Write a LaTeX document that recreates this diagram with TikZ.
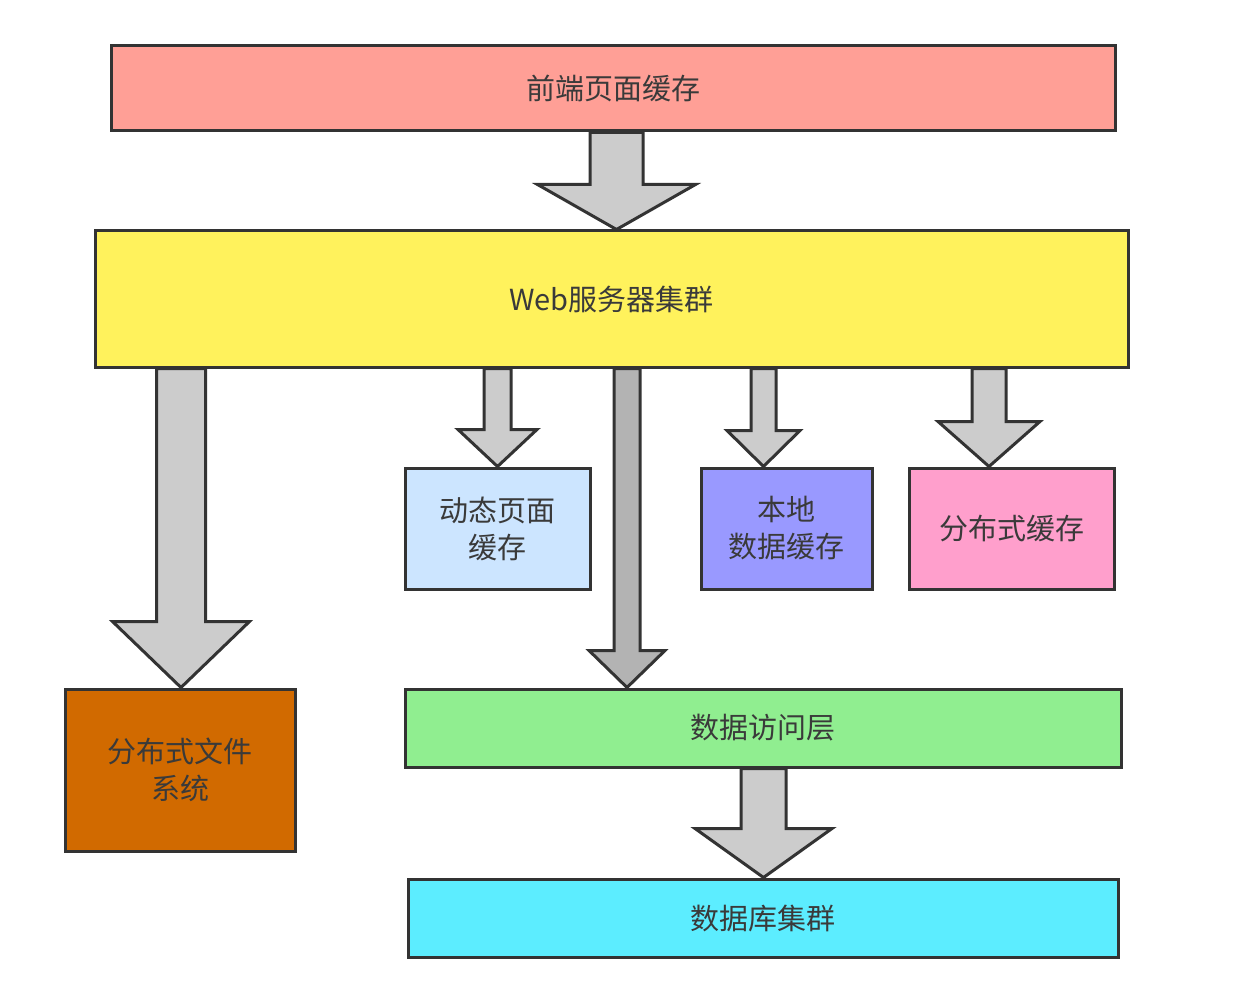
\documentclass[tikz,border=0pt]{standalone}
\usepackage{fontspec}
\newfontfamily\cjk{Noto Sans CJK SC}
\usetikzlibrary{calc}
\definecolor{tcol}{HTML}{3A3A3A}
\definecolor{lcol}{HTML}{333333}
\definecolor{cTop}{HTML}{FF9F96}
\definecolor{cWeb}{HTML}{FFF25C}
\definecolor{cDyn}{HTML}{CCE5FF}
\definecolor{cLoc}{HTML}{9999FF}
\definecolor{cDist}{HTML}{FF9FCC}
\definecolor{cDfs}{HTML}{D16A00}
\definecolor{cDal}{HTML}{90EE90}
\definecolor{cDb}{HTML}{5CEDFF}
\definecolor{aGray}{HTML}{CCCCCC}
\definecolor{aDark}{HTML}{B3B3B3}
\tikzset{
  box/.style={draw=lcol, line width=3pt, rectangle, inner sep=0pt, align=center,
    text=tcol, font=\cjk\fontsize{29}{37}\selectfont},
  blockarrow/.style={draw=lcol, line width=3pt, line join=miter}
}
\newcommand{\barrow}[7]{%
  \filldraw[blockarrow, fill=#7] let \p1=(#1.south), \p2=(#2.north) in
   ({(#3-#4)*1pt},\y1) -- ({(#3-#4)*1pt},{\y2+#6*1pt}) -- ({(#3-#5)*1pt},{\y2+#6*1pt})
   -- ({#3*1pt},\y2) -- ({(#3+#5)*1pt},{\y2+#6*1pt}) -- ({(#3+#4)*1pt},{\y2+#6*1pt})
   -- ({(#3+#4)*1pt},\y1) -- cycle;}
\begin{document}
\begin{tikzpicture}[x=1pt,y=-1pt]
\useasboundingbox[fill=white] (0,0) rectangle (1260,1008);
\node[box, fill=cTop, minimum width=1004pt, minimum height=85pt] (top) at (613,88.5) {前端页面缓存};
\node[box, fill=cWeb, minimum width=1033pt, minimum height=136pt] (web) at (611.5,299) {Web服务器集群};
\node[box, fill=cDyn, minimum width=185pt, minimum height=121pt] (dyn) at (497.5,528.5) {动态页面\\缓存};
\node[box, fill=cLoc, minimum width=171pt, minimum height=121pt] (loc) at (786.5,528.5) {本地\\数据缓存};
\node[box, fill=cDist, minimum width=205pt, minimum height=121pt] (dist) at (1011.5,528.5) {分布式缓存};
\node[box, fill=cDfs, minimum width=230pt, minimum height=162pt] (dfs) at (180,770) {分布式文件\\系统};
\node[box, fill=cDal, minimum width=716pt, minimum height=78pt] (dal) at (763,728) {数据访问层};
\node[box, fill=cDb, minimum width=710pt, minimum height=78pt] (db) at (763,918) {数据库集群};
\barrow{top}{web}{616.5}{26.5}{79}{45}{aGray}
\barrow{web}{dfs}{181}{24.5}{68.5}{66}{aGray}
\barrow{web}{dyn}{497.5}{13.5}{39.5}{37}{aGray}
\barrow{web}{dal}{627}{13}{38}{37}{aDark}
\barrow{web}{loc}{763.5}{12.5}{36.5}{36}{aGray}
\barrow{web}{dist}{989}{17}{51}{45}{aGray}
\barrow{dal}{db}{763.5}{22.5}{68.5}{49}{aGray}
\end{tikzpicture}
\end{document}
